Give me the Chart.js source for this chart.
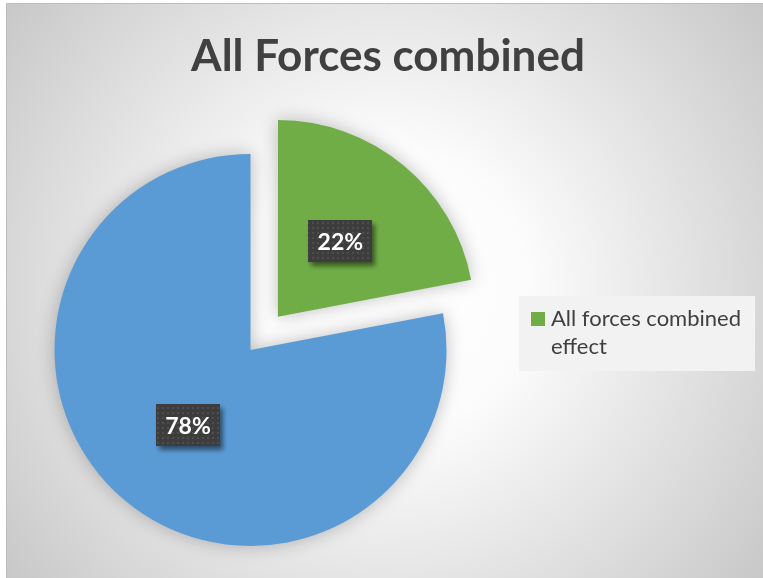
<!DOCTYPE html>
<html>
<head>
<meta charset="utf-8">
<title>All Forces combined</title>
<script src="https://cdn.jsdelivr.net/npm/chart.js@4/dist/chart.umd.min.js"></script>
<style>
  html, body { margin: 0; padding: 0; background: #ffffff; }
  #wrap { position: relative; width: 763px; height: 578px; }
</style>
</head>
<body>
<div id="wrap"><canvas id="chart"></canvas></div>
<script>
// ---- data ----
const chartTitle = 'All Forces combined';
const categories = ['All forces combined effect', ''];
const shares = [22, 78];
const sliceColors = ['#70AD47', '#5B9BD5'];

// ---- geometry / styling constants ----
const FRAME = { left: 7, top: 4 };
const PIE_RADIUS = 196;
const EXPLODE_PX = 43;          // how far the first slice is pulled out
const SIDE_PANEL_WIDTH = 275;   // space reserved on the right for the legend
const TEXT_COLOR = '#404040';
const FONT = 'Lato, "Open Sans", sans-serif';

// Frame background: white centre fading to grey at the edges
const chartBackground = {
  id: 'chartBackground',
  beforeDraw(chart) {
    const { ctx, width, height } = chart;
    ctx.save();
    ctx.fillStyle = '#ffffff';
    ctx.fillRect(0, 0, width, height);
    const w = width - FRAME.left, h = height - FRAME.top;
    const cx = FRAME.left + w * 0.5, cy = FRAME.top + h * 0.5;
    const g = ctx.createRadialGradient(cx, cy, 0, cx, cy, Math.hypot(w, h) / 2);
    g.addColorStop(0, '#ffffff');
    g.addColorStop(0.3, '#fcfcfc');
    g.addColorStop(1, '#c8c8c8');
    ctx.fillStyle = g;
    ctx.fillRect(FRAME.left, FRAME.top, w, h);
    ctx.strokeStyle = '#bdbdbd';
    ctx.lineWidth = 1;
    ctx.beginPath();
    ctx.moveTo(FRAME.left - 0.5, height);
    ctx.lineTo(FRAME.left - 0.5, FRAME.top - 0.5);
    ctx.lineTo(width, FRAME.top - 0.5);
    ctx.stroke();
    ctx.restore();
  }
};

// Soft shadow behind the slices
const pieShadow = {
  id: 'pieShadow',
  beforeDatasetsDraw(chart) {
    const ctx = chart.ctx;
    ctx.save();
    ctx.shadowColor = 'rgba(0,0,0,0.25)';
    ctx.shadowBlur = 18;
  },
  afterDatasetsDraw(chart) {
    chart.ctx.restore();
  }
};

function dottedPattern(ctx) {
  const tile = document.createElement('canvas');
  tile.width = tile.height = 5;
  const t = tile.getContext('2d');
  t.fillStyle = '#3d3d3d';
  t.fillRect(0, 0, 5, 5);
  t.fillStyle = '#4e4e4e';
  t.fillRect(2, 2, 2, 2);
  return ctx.createPattern(tile, 'repeat');
}

// Percentage callouts on dark dotted boxes
const sliceLabels = {
  id: 'sliceLabels',
  afterDatasetsDraw(chart) {
    const { ctx } = chart;
    const ds = chart.data.datasets[0];
    const meta = chart.getDatasetMeta(0);
    const total = ds.data.reduce((a, b) => a + b, 0);
    const fill = dottedPattern(ctx);
    meta.data.forEach((arc, i) => {
      const { x, y, startAngle, endAngle, outerRadius } =
        arc.getProps(['x', 'y', 'startAngle', 'endAngle', 'outerRadius'], true);
      const mid = (startAngle + endAngle) / 2;
      const shift = (arc.options.offset || 0) / 4; // arcs are drawn pushed out by a quarter of their offset
      const r = outerRadius * 0.5 + shift;
      const lx = x + Math.cos(mid) * r;
      const ly = y + Math.sin(mid) * r;
      const text = Math.round(ds.data[i] / total * 100) + '%';
      const bw = 64, bh = 42;
      ctx.save();
      ctx.shadowColor = 'rgba(0,0,0,0.5)';
      ctx.shadowBlur = 5;
      ctx.shadowOffsetX = 3;
      ctx.shadowOffsetY = 4;
      ctx.fillStyle = fill;
      ctx.fillRect(Math.round(lx - bw / 2), Math.round(ly - bh / 2), bw, bh);
      ctx.restore();
      ctx.save();
      ctx.fillStyle = '#ffffff';
      ctx.font = 'bold 23px ' + FONT;
      ctx.textAlign = 'center';
      ctx.textBaseline = 'middle';
      ctx.fillText(text, lx, ly + 1);
      ctx.restore();
    });
  }
};

// Right-hand layout box that hosts the legend
function makeLegendPanel(chart) {
  return {
    position: 'right',
    weight: 0,
    fullSize: false,
    options: { display: true },
    left: 0, top: 0, right: 0, bottom: 0, width: 0, height: 0,
    isHorizontal() { return false; },
    update(maxWidth, maxHeight) {
      this.width = SIDE_PANEL_WIDTH;
      this.height = maxHeight;
    },
    draw() {
      const ctx = chart.ctx;
      const ds = chart.data.datasets[0];
      const items = chart.data.labels
        .map((text, i) => ({ text, color: ds.backgroundColor[i] }))
        .filter(it => it.text);
      const boxL = this.left + 31, boxR = this.right - 8;
      const textX = boxL + 32;
      const maxTextW = boxR - textX;
      const lineH = 28;
      ctx.save();
      ctx.font = '22px ' + FONT;
      // wrap each entry into lines
      const blocks = items.map(it => {
        const words = it.text.split(' ');
        const lines = [];
        let cur = '';
        words.forEach(w => {
          const next = cur ? cur + ' ' + w : w;
          if (ctx.measureText(next).width > maxTextW && cur) { lines.push(cur); cur = w; }
          else cur = next;
        });
        if (cur) lines.push(cur);
        return { ...it, lines };
      });
      const nLines = blocks.reduce((n, b) => n + b.lines.length, 0);
      const boxH = nLines * lineH + 19;
      const boxT = Math.round((this.top + this.bottom) / 2 - 16.5 - boxH / 2);
      ctx.fillStyle = '#f2f2f2';
      ctx.fillRect(boxL, boxT, boxR - boxL, boxH);
      let baseline = boxT + 30;
      blocks.forEach(b => {
        ctx.fillStyle = b.color;
        ctx.fillRect(boxL + 12, baseline - 14, 14, 14);
        ctx.fillStyle = TEXT_COLOR;
        ctx.textBaseline = 'alphabetic';
        ctx.textAlign = 'left';
        b.lines.forEach(line => {
          ctx.fillText(line, textX, baseline);
          baseline += lineH;
        });
      });
      ctx.restore();
    }
  };
}

const legendPanelPlugin = {
  id: 'legendPanel',
  beforeInit(chart) {
    Chart.layouts.addBox(chart, makeLegendPanel(chart));
  }
};

new Chart(document.getElementById('chart'), {
  type: 'pie',
  data: {
    labels: categories,
    datasets: [{
      data: shares,
      backgroundColor: sliceColors,
      borderWidth: 0,
      offset: [EXPLODE_PX * 4, 0],
      hoverOffset: 0,
      clip: false
    }]
  },
  options: {
    responsive: true,
    maintainAspectRatio: false,
    devicePixelRatio: 1,
    animation: false,
    events: [],
    radius: PIE_RADIUS,
    layout: { padding: { left: 13, right: 0, top: 0, bottom: 28 } },
    plugins: {
      legend: { display: false },
      tooltip: { enabled: false },
      title: {
        display: true,
        text: chartTitle,
        color: TEXT_COLOR,
        font: { family: FONT, size: 44, weight: 'bold', lineHeight: 1.2 },
        padding: { top: 30, bottom: 67 }
      }
    }
  },
  plugins: [chartBackground, pieShadow, sliceLabels, legendPanelPlugin]
});
</script>
</body>
</html>
